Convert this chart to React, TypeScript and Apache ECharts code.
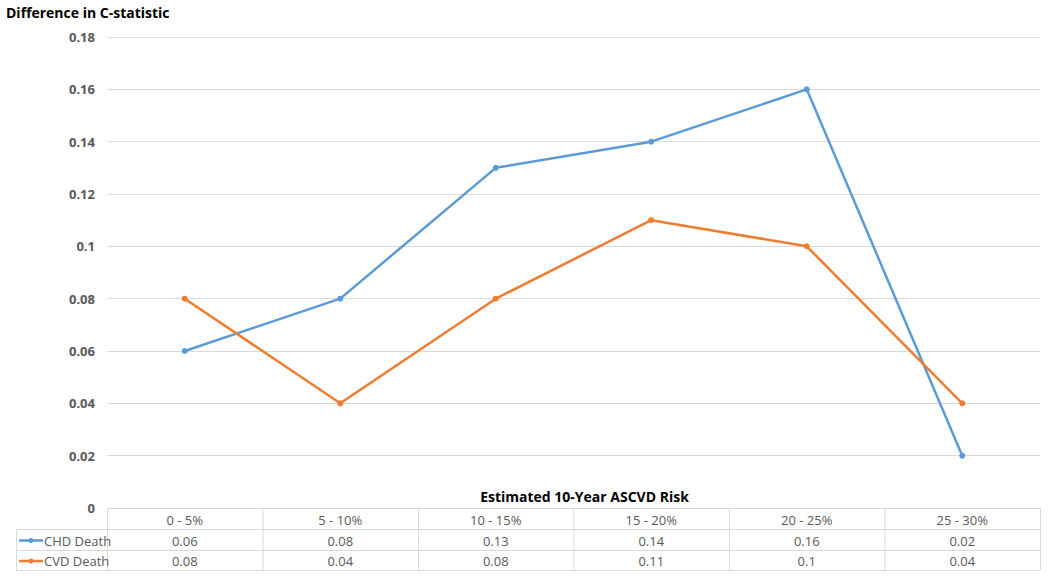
import React, { useEffect, useRef } from "react";
import * as echarts from "echarts";

const categories = ["0 - 5%", "5 - 10%", "10 - 15%", "15 - 20%", "20 - 25%", "25 - 30%"];
const chdDeath = [0.06, 0.08, 0.13, 0.14, 0.16, 0.02];
const cvdDeath = [0.08, 0.04, 0.08, 0.11, 0.1, 0.04];
const seriesNames = ["CHD Death", "CVD Death"];
const seriesColors = ["#5B9BD5", "#ED7D31"];
const yTitle = "Difference in C-statistic";
const xTitle = "Estimated 10-Year ASCVD Risk";

const W = 1050;
const H = 576;
const GL = 107;
const GR = 1040;
const GT = 37;
const GB = 508;
const ROW1 = 529;
const ROW2 = 550;
const ROW3 = 570;
const TL = 16;
const FONT = "'Open Sans', 'Noto Sans', sans-serif";
const GRAY = "#595959";
const LINEC = "#d9d9d9";

export default function App() {
  const ref = useRef<HTMLDivElement>(null);
  useEffect(() => {
    if (!ref.current) return;
    const chart = echarts.init(ref.current, null, { renderer: "svg" });
    const allData = [chdDeath, cvdDeath];
    const bw = (GR - GL) / categories.length;
    const g: any[] = [];
    const hline = (x1: number, x2: number, y: number) =>
      g.push({ type: "line", shape: { x1, y1: y + 0.5, x2, y2: y + 0.5 }, style: { stroke: LINEC, lineWidth: 1 }, silent: true });
    const vline = (x: number, y1: number, y2: number) =>
      g.push({ type: "line", shape: { x1: x + 0.5, y1, x2: x + 0.5, y2 }, style: { stroke: LINEC, lineWidth: 1 }, silent: true });
    hline(GL, GR, GB);
    hline(TL, GR, ROW1);
    hline(TL, GR, ROW2);
    hline(TL, GR, ROW3);
    vline(TL, ROW1, ROW3);
    for (let i = 0; i <= categories.length; i++) vline(GL + i * bw, GB, ROW3);
    categories.forEach((c, i) => {
      g.push({
        type: "text",
        x: GL + (i + 0.5) * bw,
        y: (GB + ROW1) / 2 + 1,
        style: { text: c, fill: GRAY, font: `13px ${FONT}`, textAlign: "center", textVerticalAlign: "middle" },
      });
    });
    const rows = [ROW1, ROW2];
    const rowsEnd = [ROW2, ROW3];
    allData.forEach((arr, r) => {
      const cy = (rows[r] + rowsEnd[r]) / 2 + 1;
      g.push({ type: "line", shape: { x1: 19, y1: cy, x2: 43, y2: cy }, style: { stroke: seriesColors[r], lineWidth: 2.5 } });
      g.push({ type: "circle", shape: { cx: 31, cy, r: 2.5 }, style: { fill: seriesColors[r] } });
      g.push({
        type: "text",
        x: 44,
        y: cy,
        style: { text: seriesNames[r], fill: GRAY, font: `13px ${FONT}`, textAlign: "left", textVerticalAlign: "middle" },
      });
      arr.forEach((v, i) => {
        g.push({
          type: "text",
          x: GL + (i + 0.5) * bw,
          y: cy,
          style: { text: String(v), fill: GRAY, font: `13px ${FONT}`, textAlign: "center", textVerticalAlign: "middle" },
        });
      });
    });
    g.push({
      type: "text",
      x: (GL + GR) / 2 + 11,
      y: 496,
      style: { text: xTitle, fill: "#000", font: `bold 14px ${FONT}`, textAlign: "center", textVerticalAlign: "middle" },
    });
    g.push({
      type: "text",
      x: 6,
      y: 12,
      style: { text: yTitle, fill: "#000", font: `bold 14px ${FONT}`, textAlign: "left", textVerticalAlign: "middle" },
    });

    chart.setOption({
      animation: false,
      backgroundColor: "#fff",
      grid: { left: GL, right: W - GR, top: GT, bottom: H - GB, containLabel: false },
      xAxis: {
        type: "category",
        data: categories,
        boundaryGap: true,
        axisLabel: { show: false },
        axisTick: { show: false },
        axisLine: { show: false },
        splitLine: { show: false },
      },
      yAxis: {
        type: "value",
        min: 0,
        max: 0.18,
        interval: 0.02,
        axisLine: { show: false },
        axisTick: { show: false },
        axisLabel: {
          color: GRAY,
          fontWeight: "bold",
          fontSize: 13,
          fontFamily: FONT,
          margin: 12,
          formatter: (v: number) => String(+v.toFixed(2)),
        },
        splitLine: { lineStyle: { color: LINEC, width: 1 } },
      },
      series: allData.map((arr, r) => ({
        type: "line",
        name: seriesNames[r],
        data: arr,
        color: seriesColors[r],
        lineStyle: { width: 2.5, color: seriesColors[r] },
        symbol: "circle",
        symbolSize: 6,
        itemStyle: { color: seriesColors[r] },
      })),
      graphic: g,
    });
    return () => chart.dispose();
  }, []);
  return <div ref={ref} style={{ position: "absolute", left: 0, top: 0, width: W, height: H }} />;
}
